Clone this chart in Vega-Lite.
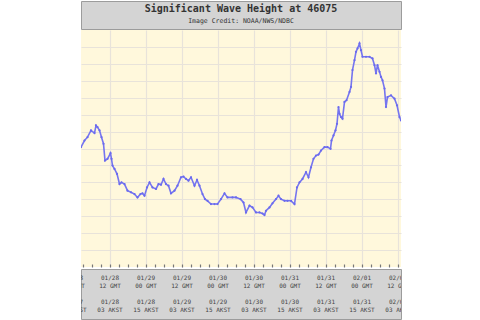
{
  "$schema": "https://vega.github.io/schema/vega-lite/v6.json",
  "background": "white",
  "padding": {"left": 80, "top": 0, "right": 0, "bottom": 0},
  "spacing": 0,
  "datasets": {
    "titles": [{"title": "Significant Wave Height at 46075", "credit": "Image Credit: NOAA/NWS/NDBC"}],
    "ticklabels": [
      {"t": "2024-01-28T00:00:00Z", "gd": "01/28", "gt": "00 GMT", "ad": "01/27", "at": "15 AKST"},
      {"t": "2024-01-28T12:00:00Z", "gd": "01/28", "gt": "12 GMT", "ad": "01/28", "at": "03 AKST"},
      {"t": "2024-01-29T00:00:00Z", "gd": "01/29", "gt": "00 GMT", "ad": "01/28", "at": "15 AKST"},
      {"t": "2024-01-29T12:00:00Z", "gd": "01/29", "gt": "12 GMT", "ad": "01/29", "at": "03 AKST"},
      {"t": "2024-01-30T00:00:00Z", "gd": "01/30", "gt": "00 GMT", "ad": "01/29", "at": "15 AKST"},
      {"t": "2024-01-30T12:00:00Z", "gd": "01/30", "gt": "12 GMT", "ad": "01/30", "at": "03 AKST"},
      {"t": "2024-01-31T00:00:00Z", "gd": "01/31", "gt": "00 GMT", "ad": "01/30", "at": "15 AKST"},
      {"t": "2024-01-31T12:00:00Z", "gd": "01/31", "gt": "12 GMT", "ad": "01/31", "at": "03 AKST"},
      {"t": "2024-02-01T00:00:00Z", "gd": "02/01", "gt": "00 GMT", "ad": "01/31", "at": "15 AKST"},
      {"t": "2024-02-01T12:00:00Z", "gd": "02/01", "gt": "12 GMT", "ad": "02/01", "at": "03 AKST"}
    ],
    "wave": [
      {"t": "2024-01-28T02:20:00Z", "h": 7.08},
      {"t": "2024-01-28T03:30:00Z", "h": 7.47},
      {"t": "2024-01-28T04:30:00Z", "h": 7.67},
      {"t": "2024-01-28T05:40:00Z", "h": 8.07},
      {"t": "2024-01-28T06:50:00Z", "h": 7.91},
      {"t": "2024-01-28T07:20:00Z", "h": 8.36},
      {"t": "2024-01-28T07:50:00Z", "h": 8.26},
      {"t": "2024-01-28T08:30:00Z", "h": 8.07},
      {"t": "2024-01-28T09:10:00Z", "h": 7.67},
      {"t": "2024-01-28T09:50:00Z", "h": 7.28},
      {"t": "2024-01-28T10:20:00Z", "h": 6.29},
      {"t": "2024-01-28T11:10:00Z", "h": 6.39},
      {"t": "2024-01-28T12:10:00Z", "h": 6.72},
      {"t": "2024-01-28T12:30:00Z", "h": 6.39},
      {"t": "2024-01-28T12:50:00Z", "h": 5.99},
      {"t": "2024-01-28T13:30:00Z", "h": 5.79},
      {"t": "2024-01-28T14:20:00Z", "h": 5.50},
      {"t": "2024-01-28T15:10:00Z", "h": 4.90},
      {"t": "2024-01-28T15:50:00Z", "h": 5.00},
      {"t": "2024-01-28T16:50:00Z", "h": 4.90},
      {"t": "2024-01-28T17:50:00Z", "h": 4.51},
      {"t": "2024-01-28T19:00:00Z", "h": 4.41},
      {"t": "2024-01-28T20:10:00Z", "h": 4.31},
      {"t": "2024-01-28T21:10:00Z", "h": 4.11},
      {"t": "2024-01-28T22:10:00Z", "h": 4.31},
      {"t": "2024-01-28T22:50:00Z", "h": 4.35},
      {"t": "2024-01-28T23:30:00Z", "h": 4.21},
      {"t": "2024-01-29T00:20:00Z", "h": 4.70},
      {"t": "2024-01-29T01:10:00Z", "h": 5.00},
      {"t": "2024-01-29T02:10:00Z", "h": 4.70},
      {"t": "2024-01-29T03:20:00Z", "h": 4.61},
      {"t": "2024-01-29T04:10:00Z", "h": 4.90},
      {"t": "2024-01-29T05:00:00Z", "h": 4.86},
      {"t": "2024-01-29T05:50:00Z", "h": 5.20},
      {"t": "2024-01-29T06:40:00Z", "h": 4.90},
      {"t": "2024-01-29T07:30:00Z", "h": 4.80},
      {"t": "2024-01-29T08:20:00Z", "h": 4.35},
      {"t": "2024-01-29T09:30:00Z", "h": 4.51},
      {"t": "2024-01-29T10:30:00Z", "h": 4.80},
      {"t": "2024-01-29T11:40:00Z", "h": 5.30},
      {"t": "2024-01-29T12:30:00Z", "h": 5.34},
      {"t": "2024-01-29T13:20:00Z", "h": 5.20},
      {"t": "2024-01-29T14:10:00Z", "h": 5.10},
      {"t": "2024-01-29T15:00:00Z", "h": 5.30},
      {"t": "2024-01-29T16:10:00Z", "h": 4.80},
      {"t": "2024-01-29T17:00:00Z", "h": 5.14},
      {"t": "2024-01-29T17:50:00Z", "h": 4.80},
      {"t": "2024-01-29T18:50:00Z", "h": 4.31},
      {"t": "2024-01-29T19:40:00Z", "h": 4.01},
      {"t": "2024-01-29T20:30:00Z", "h": 3.91},
      {"t": "2024-01-29T21:40:00Z", "h": 3.72},
      {"t": "2024-01-29T22:50:00Z", "h": 3.72},
      {"t": "2024-01-29T23:50:00Z", "h": 3.72},
      {"t": "2024-01-30T01:00:00Z", "h": 4.01},
      {"t": "2024-01-30T02:10:00Z", "h": 4.35},
      {"t": "2024-01-30T03:10:00Z", "h": 4.11},
      {"t": "2024-01-30T04:50:00Z", "h": 4.11},
      {"t": "2024-01-30T06:00:00Z", "h": 4.11},
      {"t": "2024-01-30T07:30:00Z", "h": 4.01},
      {"t": "2024-01-30T08:30:00Z", "h": 3.81},
      {"t": "2024-01-30T09:20:00Z", "h": 3.22},
      {"t": "2024-01-30T10:30:00Z", "h": 3.62},
      {"t": "2024-01-30T11:30:00Z", "h": 3.52},
      {"t": "2024-01-30T12:40:00Z", "h": 3.22},
      {"t": "2024-01-30T13:50:00Z", "h": 3.22},
      {"t": "2024-01-30T14:50:00Z", "h": 3.16},
      {"t": "2024-01-30T15:30:00Z", "h": 3.07},
      {"t": "2024-01-30T16:00:00Z", "h": 3.32},
      {"t": "2024-01-30T17:10:00Z", "h": 3.52},
      {"t": "2024-01-30T18:10:00Z", "h": 3.76},
      {"t": "2024-01-30T19:20:00Z", "h": 4.01},
      {"t": "2024-01-30T20:10:00Z", "h": 4.21},
      {"t": "2024-01-30T21:00:00Z", "h": 4.01},
      {"t": "2024-01-30T22:10:00Z", "h": 3.91},
      {"t": "2024-01-30T23:10:00Z", "h": 3.91},
      {"t": "2024-01-31T00:20:00Z", "h": 3.91},
      {"t": "2024-01-31T01:30:00Z", "h": 3.72},
      {"t": "2024-01-31T02:20:00Z", "h": 4.70},
      {"t": "2024-01-31T03:10:00Z", "h": 5.00},
      {"t": "2024-01-31T04:10:00Z", "h": 5.20},
      {"t": "2024-01-31T05:20:00Z", "h": 5.60},
      {"t": "2024-01-31T06:10:00Z", "h": 5.30},
      {"t": "2024-01-31T07:00:00Z", "h": 5.89},
      {"t": "2024-01-31T07:50:00Z", "h": 6.39},
      {"t": "2024-01-31T08:40:00Z", "h": 6.58},
      {"t": "2024-01-31T09:30:00Z", "h": 6.64},
      {"t": "2024-01-31T10:20:00Z", "h": 6.88},
      {"t": "2024-01-31T11:30:00Z", "h": 7.08},
      {"t": "2024-01-31T12:30:00Z", "h": 7.08},
      {"t": "2024-01-31T13:30:00Z", "h": 6.98},
      {"t": "2024-01-31T13:50:00Z", "h": 7.47},
      {"t": "2024-01-31T14:30:00Z", "h": 7.77},
      {"t": "2024-01-31T15:10:00Z", "h": 8.07},
      {"t": "2024-01-31T15:40:00Z", "h": 8.46},
      {"t": "2024-01-31T16:10:00Z", "h": 9.45},
      {"t": "2024-01-31T16:30:00Z", "h": 9.05},
      {"t": "2024-01-31T17:00:00Z", "h": 8.86},
      {"t": "2024-01-31T17:30:00Z", "h": 8.76},
      {"t": "2024-01-31T18:10:00Z", "h": 9.75},
      {"t": "2024-01-31T18:50:00Z", "h": 9.85},
      {"t": "2024-01-31T19:50:00Z", "h": 10.34},
      {"t": "2024-01-31T20:20:00Z", "h": 10.64},
      {"t": "2024-01-31T20:50:00Z", "h": 11.63},
      {"t": "2024-01-31T21:30:00Z", "h": 12.22},
      {"t": "2024-01-31T22:00:00Z", "h": 12.71},
      {"t": "2024-01-31T22:30:00Z", "h": 12.91},
      {"t": "2024-01-31T23:10:00Z", "h": 13.21},
      {"t": "2024-01-31T23:40:00Z", "h": 12.81},
      {"t": "2024-02-01T00:10:00Z", "h": 12.42},
      {"t": "2024-02-01T01:20:00Z", "h": 12.42},
      {"t": "2024-02-01T02:30:00Z", "h": 12.42},
      {"t": "2024-02-01T03:30:00Z", "h": 12.32},
      {"t": "2024-02-01T04:10:00Z", "h": 11.92},
      {"t": "2024-02-01T04:40:00Z", "h": 11.43},
      {"t": "2024-02-01T05:10:00Z", "h": 11.92},
      {"t": "2024-02-01T05:50:00Z", "h": 11.53},
      {"t": "2024-02-01T06:20:00Z", "h": 11.23},
      {"t": "2024-02-01T06:50:00Z", "h": 11.03},
      {"t": "2024-02-01T07:30:00Z", "h": 10.54},
      {"t": "2024-02-01T08:00:00Z", "h": 9.45},
      {"t": "2024-02-01T08:30:00Z", "h": 10.04},
      {"t": "2024-02-01T09:40:00Z", "h": 10.14},
      {"t": "2024-02-01T10:50:00Z", "h": 9.94},
      {"t": "2024-02-01T11:40:00Z", "h": 9.55},
      {"t": "2024-02-01T12:30:00Z", "h": 8.86},
      {"t": "2024-02-01T13:00:00Z", "h": 8.66}
    ]
  },
  "vconcat": [
    {
      "width": 320,
      "height": 28,
      "view": {"fill": "#d4d4d4", "stroke": "#9c9c9c"},
      "data": {"name": "titles"},
      "layer": [
        {
          "mark": {"type": "text", "font": "DejaVu Sans Mono", "fontSize": 10, "fontWeight": "bold", "color": "#333333", "dy": -6},
          "encoding": {"text": {"field": "title"}}
        },
        {
          "mark": {"type": "text", "font": "DejaVu Sans Mono", "fontSize": 6.5, "color": "#333333", "dy": 6},
          "encoding": {"text": {"field": "credit"}}
        }
      ]
    },
    {
      "width": 320,
      "height": 237,
      "view": {"fill": "#fff8dc", "stroke": null},
      "data": {"name": "wave"},
      "encoding": {
        "x": {
          "field": "t", "type": "temporal",
          "scale": {"type": "utc", "domain": [1706408400000, 1706792400000]},
          "axis": {
            "title": null, "labels": false, "domain": false,
            "values": [1706410800000, 1706421600000, 1706432400000, 1706443200000, 1706454000000, 1706464800000, 1706475600000, 1706486400000, 1706497200000, 1706508000000, 1706518800000, 1706529600000, 1706540400000, 1706551200000, 1706562000000, 1706572800000, 1706583600000, 1706594400000, 1706605200000, 1706616000000, 1706626800000, 1706637600000, 1706648400000, 1706659200000, 1706670000000, 1706680800000, 1706691600000, 1706702400000, 1706713200000, 1706724000000, 1706734800000, 1706745600000, 1706756400000, 1706767200000, 1706778000000, 1706788800000],
            "tickSize": -3, "tickColor": "#777777", "tickWidth": 1.2,
            "grid": true,
            "gridColor": {"condition": {"test": "utchours(datum.value) % 12 === 0", "value": "#e8e3da"}, "value": "rgba(0,0,0,0)"},
            "gridWidth": 1.2
          }
        },
        "y": {
          "field": "h", "type": "quantitative",
          "scale": {"domain": [0, 14], "nice": false, "zero": false},
          "axis": {"title": null, "labels": false, "ticks": false, "domain": false, "values": [1,2,3,4,5,6,7,8,9,10,11,12,13], "grid": true, "gridColor": "#e8e3da", "gridWidth": 1.2}
        }
      },
      "layer": [
        {"mark": {"type": "line", "color": "#7575f0", "strokeWidth": 1.6, "clip": true}},
        {"mark": {"type": "point", "filled": true, "size": 5, "color": "#6a6aee", "opacity": 1, "clip": true}}
      ]
    },
    {
      "width": 320,
      "height": 50,
      "view": {"fill": "#d4d4d4", "stroke": "#9c9c9c"},
      "data": {"name": "ticklabels"},
      "encoding": {
        "x": {
          "field": "t", "type": "temporal", "axis": null,
          "scale": {"type": "utc", "domain": [1706408400000, 1706792400000]}
        }
      },
      "layer": [
        {"mark": {"type": "text", "font": "DejaVu Sans Mono", "fontSize": 6, "color": "#444444", "dy": -16, "clip": true}, "encoding": {"text": {"field": "gd"}}},
        {"mark": {"type": "text", "font": "DejaVu Sans Mono", "fontSize": 6, "color": "#444444", "dy": -8, "clip": true}, "encoding": {"text": {"field": "gt"}}},
        {"mark": {"type": "text", "font": "DejaVu Sans Mono", "fontSize": 6, "color": "#444444", "dy": 8, "clip": true}, "encoding": {"text": {"field": "ad"}}},
        {"mark": {"type": "text", "font": "DejaVu Sans Mono", "fontSize": 6, "color": "#444444", "dy": 16, "clip": true}, "encoding": {"text": {"field": "at"}}}
      ]
    }
  ]
}
